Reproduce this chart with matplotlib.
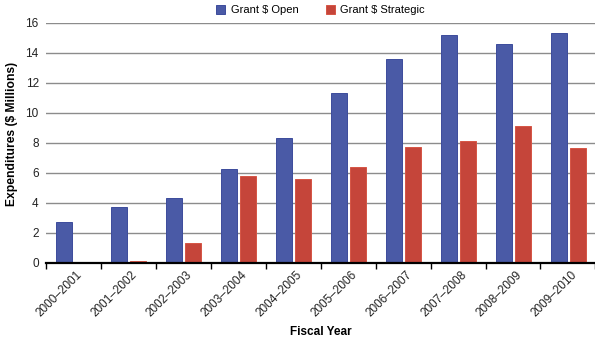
import numpy as np
import matplotlib
matplotlib.use("Agg")
import matplotlib.pyplot as plt
import matplotlib.transforms as mtransforms

plt.rcParams['font.family'] = ['Liberation Sans', 'DejaVu Sans']

years = ['2000–2001', '2001–2002', '2002–2003', '2003–2004', '2004–2005',
         '2005–2006', '2006–2007', '2007–2008', '2008–2009', '2009–2010']
grant_open = [2.7, 3.7, 4.35, 6.25, 8.3, 11.35, 13.6, 15.2, 14.6, 15.35]
grant_strategic = [0.0, 0.15, 1.35, 5.8, 5.6, 6.4, 7.75, 8.15, 9.15, 7.65]

blue = '#4a5aa6'
red = '#c5453a'

fig = plt.figure(figsize=(5.95, 3.38), dpi=100)
ax = fig.add_axes([0.0768, 0.222, 0.924, 0.710])

x = np.arange(len(years))
w = 0.28
ax.bar(x - 0.167, grant_open, w, color=blue, edgecolor='#3c4c9c', linewidth=0.7,
       label='Grant $ Open', zorder=3)
ax.bar(x + 0.18, grant_strategic, w, color=red, edgecolor='#d65545', linewidth=0.7,
       label='Grant $ Strategic', zorder=3)

ax.set_xlim(-0.5, len(years) - 0.5)
ax.set_ylim(0, 16)
ax.set_yticks(np.arange(0, 17, 2))
ax.yaxis.grid(True, color='#8c8c8c', linewidth=1.0, zorder=0)
ax.tick_params(axis='y', length=0, labelsize=8.5, pad=5, labelcolor='#222222')

# category labels sit at centres, tick marks at category boundaries
ax.set_xticks(x)
ax.set_xticklabels(years, rotation=45, ha='right', va='center',
                   rotation_mode='anchor', fontsize=8.5, color='#222222')
ax.tick_params(axis='x', which='major', length=0, pad=7)
shift = mtransforms.ScaledTranslation(0.07, 0, fig.dpi_scale_trans)
for lbl in ax.get_xticklabels():
    lbl.set_transform(lbl.get_transform() + shift)
ax.set_xticks(np.arange(-0.5, len(years)), minor=True)
ax.tick_params(axis='x', which='minor', length=4, width=1, color='black')

for s in ['top', 'right', 'left']:
    ax.spines[s].set_visible(False)
ax.spines['bottom'].set_linewidth(1.6)
ax.spines['bottom'].set_zorder(4)

fig.text(0.021, 0.604, 'Expenditures ($ Millions)', rotation=90, ha='center',
         va='center', fontsize=8.7, fontweight='bold')
fig.text(0.54, 0.017, 'Fiscal Year', ha='center', va='center',
         fontsize=8.5, fontweight='bold')

ax.legend(loc='lower center', bbox_to_anchor=(0.5, 1.0), ncol=2, frameon=False,
          fontsize=8, handlelength=0.8, handleheight=0.8, columnspacing=2.5,
          handletextpad=0.5, borderaxespad=0.3)

fig.savefig('out.png', dpi=100)
